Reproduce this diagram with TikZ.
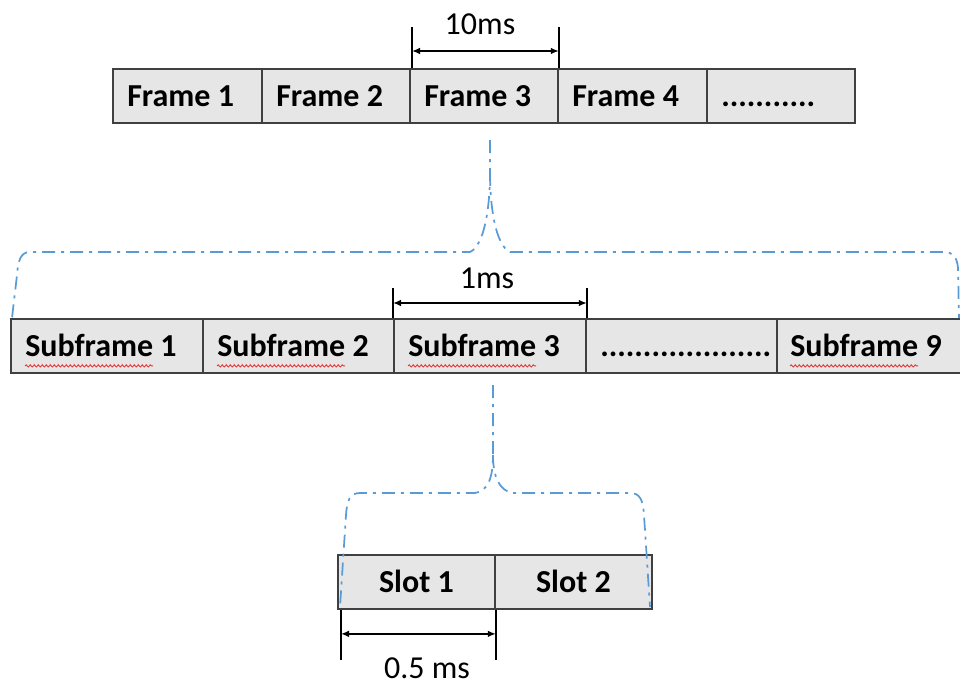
\documentclass[tikz,border=0pt]{standalone}
\usepackage{fontspec}
\setmainfont{Carlito}
\usetikzlibrary{arrows.meta,calc,decorations.pathmorphing}
\definecolor{cellfill}{HTML}{E7E6E6}
\definecolor{cellline}{HTML}{404040}
\definecolor{bracecol}{HTML}{5B9BD5}
\definecolor{spellred}{HTML}{E03C3C}
\newlength\sqw
\newcommand\lblfont{\bfseries\fontsize{24}{28}\selectfont}
\begin{document}
\settowidth\sqw{\lblfont Subframe}
\begin{tikzpicture}[x=0.75pt,y=-0.75pt,
  cell/.style={draw=cellline, fill=cellfill, line width=1.4pt, minimum height=40.5pt,
    inner sep=0pt, anchor=north west},
  cw/.style={minimum width=#1*0.75pt},
  lbl/.style={inner sep=0pt, font=\lblfont, text height=15.5pt, text depth=0pt},
  dimtxt/.style={inner sep=0pt, font=\fontsize{24}{28}\selectfont, anchor=base},
  dimline/.style={line width=1.2pt, black},
  dimarrow/.style={line width=1.2pt, black,
    {Latex[length=6pt,width=5pt]}-{Latex[length=6pt,width=5pt]}},
  brace/.style={draw=bracecol, line width=1.3pt,
    dash pattern=on 9.75pt off 4.5pt on 2.25pt off 4.5pt},
  squiggle/.style={draw=spellred, line width=0.7pt, decorate,
    decoration={snake, amplitude=0.8pt, segment length=3pt}}]
\useasboundingbox (0,0) rectangle (960,686);

% ---- frames ----
\node[cell,cw=149] (f1) at (112,68) {};
\node[cell,cw=148] (f2) at (261,68) {};
\node[cell,cw=148] (f3) at (409,68) {};
\node[cell,cw=149] (f4) at (557,68) {};
\node[cell,cw=148] (f5) at (706,68) {};
\node[lbl,anchor=west] (f1l) at ($(f1.west)+(15,0)$) {Frame 1};
\node[lbl,anchor=west] (f2l) at ($(f2.west)+(15,0)$) {Frame 2};
\node[lbl,anchor=west] (f3l) at ($(f3.west)+(15,0)$) {Frame 3};
\node[lbl,anchor=west] (f4l) at ($(f4.west)+(15,0)$) {Frame 4};
\node[lbl,anchor=west] (f5l) at ($(f5.west)+(15,0)$) {...........};

% ---- subframes ----
\node[cell,cw=192] (s1) at (10,318) {};
\node[cell,cw=191] (s2) at (202,318) {};
\node[cell,cw=192] (s3) at (393,318) {};
\node[cell,cw=191] (s4) at (585,318) {};
\node[cell,cw=185] (s5) at (776,318) {};
\node[lbl,anchor=west] (s1l) at ($(s1.west)+(15,0)$) {Subframe 1};
\node[lbl,anchor=west] (s2l) at ($(s2.west)+(15,0)$) {Subframe 2};
\node[lbl,anchor=west] (s3l) at ($(s3.west)+(15,0)$) {Subframe 3};
\node[lbl,anchor=west] (s4l) at ($(s4.west)+(15,0)$) {....................};
\node[lbl,anchor=west] (s5l) at ($(s5.west)+(14,0)$) {Subframe 9};
\foreach \n in {s1l,s2l,s3l,s5l}
  \draw[squiggle] ($(\n.west)+(0,20)$) -- ++(\sqw,0pt);

% ---- slots ----
\node[cell,cw=157] (sl1) at (337,554) {};
\node[cell,cw=157] (sl2) at (494,554) {};
\node[lbl] (sl1l) at (sl1.center) {Slot 1};
\node[lbl] (sl2l) at (sl2.center) {Slot 2};

% ---- dimension: 10ms ----
\coordinate (d1a) at ($(f3.north west)+(3,0)$);
\coordinate (d1b) at (f3.north east);
\draw[dimline] (d1a) -- ++(0,-41);
\draw[dimline] (d1b) -- ++(0,-41);
\draw[dimarrow] ($(d1a)+(0,-17)$) -- ($(d1b)+(0,-17)$);
\node[dimtxt] (t10) at (480,34) {10ms};

% ---- dimension: 1ms ----
\coordinate (d2a) at (s3.north west);
\coordinate (d2b) at (s3.north east);
\draw[dimline] (d2a) -- ++(0,-30);
\draw[dimline] (d2b) -- ++(0,-30);
\draw[dimarrow] ($(d2a)+(0,-15)$) -- ($(d2b)+(0,-15)$);
\node[dimtxt] (t1) at (487,288) {1ms};

% ---- dimension: 0.5 ms ----
\coordinate (d3a) at ($(sl1.south west)+(4,0)$);
\coordinate (d3b) at (sl1.south east);
\draw[dimline] (d3a) -- ++(0,50);
\draw[dimline] (d3b) -- ++(0,50);
\draw[dimarrow] ($(d3a)+(0,24)$) -- ($(d3b)+(0,24)$);
\node[dimtxt] (t05) at (427,678) {0.5 ms};

% ---- zoom braces ----
\draw[brace] (490,140) -- (490,173)
  .. controls (490,205) and (485,245) .. (470,252) -- (30,252)
  .. controls (21,252) and (18,260) .. (17,275) -- (12,318);
\draw[brace] (490,173)
  .. controls (490,205) and (495,245) .. (510,252) -- (944,252)
  .. controls (953,252) and (957,257) .. (958,268) -- (959,318);

\draw[brace] (493,385) -- (493,455)
  .. controls (493,478) and (488,491) .. (475,493) -- (360,493)
  .. controls (350,493) and (347,500) .. (346,515) -- (340,607);
\draw[brace] (493,455)
  .. controls (493,478) and (500,491) .. (513,493) -- (630,493)
  .. controls (640,493) and (643,500) .. (644,515) -- (650,607);
\end{tikzpicture}
\end{document}
